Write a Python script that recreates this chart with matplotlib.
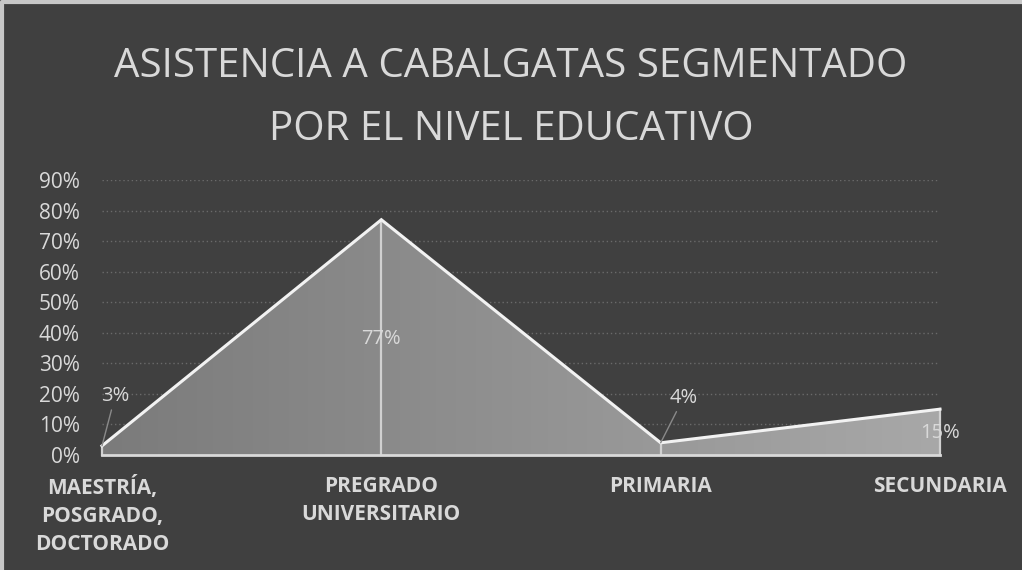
"""Area chart: asistencia a cabalgatas por nivel educativo."""

import numpy as np
import matplotlib.pyplot as plt
from matplotlib.colors import LinearSegmentedColormap
from matplotlib.lines import Line2D
from matplotlib.ticker import PercentFormatter

categories = ["MAESTRÍA,\nPOSGRADO,\nDOCTORADO", "PREGRADO\nUNIVERSITARIO", "PRIMARIA", "SECUNDARIA"]
values = [0.03, 0.77, 0.04, 0.15]
value_labels = ["3%", "77%", "4%", "15%"]
y_ticks = [0.0, 0.1, 0.2, 0.3, 0.4, 0.5, 0.6, 0.7, 0.8, 0.9]
title = "ASISTENCIA A CABALGATAS SEGMENTADO\nPOR EL NIVEL EDUCATIVO"

BG = "#404040"
TXT = "#d9d9d9"

plt.rcParams["font.family"] = ["Open Sans", "DejaVu Sans"]


def main():
    fig = plt.figure(figsize=(10.22, 5.70), dpi=100, facecolor=BG)
    # light frame on the top and left edge
    fig.lines.append(Line2D([0.002, 0.002, 1], [0, 0.997, 0.997], transform=fig.transFigure,
                            color="#c8c8c8", linewidth=3))

    ax = fig.add_axes([102 / 1022, 115 / 570, 838 / 1022, 275 / 570])
    ax.set_facecolor(BG)
    x = np.arange(len(values))
    ax.set_xlim(0, len(values) - 1)
    ax.set_ylim(0, 0.9)

    # gridlines
    ax.set_yticks(y_ticks)
    ax.yaxis.set_major_formatter(PercentFormatter(1.0, decimals=0))
    ax.grid(axis="y", color="#6a6a6a", linestyle=(0, (1, 2)), linewidth=1)
    ax.set_axisbelow(True)

    # area with horizontal gradient
    poly = ax.fill_between(x, values, 0, color="none")
    grad = np.linspace(0, 1, 256).reshape(1, -1)
    cmap = LinearSegmentedColormap.from_list("g", ["#7b7b7b", "#a8a8a8"])
    img = ax.imshow(grad, cmap=cmap, extent=[0, len(values) - 1, 0, 0.9],
                    aspect="auto", zorder=2)
    img.set_clip_path(poly.get_paths()[0], transform=ax.transData)

    ax.plot(x, values, color="#f2f2f2", linewidth=2.2, zorder=4, clip_on=False,
            solid_joinstyle="miter")
    ax.plot([x[0], x[-1]], [0, 0], color="#d9d9d9", linewidth=2, zorder=4, clip_on=False)
    for xi, v in zip(x, values):
        ax.plot([xi, xi], [0, v], color="#d0d0d0", linewidth=1.6, zorder=3, clip_on=False)

    # data labels (offsets in points)
    label_offsets = [(9.5, 36), (0, -86), (16.5, 32.5), (0, -17)]
    leader = [True, False, True, False]
    for xi, v, lab, off, lead in zip(x, values, value_labels, label_offsets, leader):
        arrow = dict(arrowstyle="-", color="#8a8a8a", lw=1, shrinkA=1, shrinkB=0) if lead else None
        ax.annotate(lab, (xi, v), xytext=off, textcoords="offset points",
                    ha="center", va="center", color=TXT, fontsize=14.5,
                    arrowprops=arrow, zorder=5)

    ax.set_xticks(x)
    ax.set_xticklabels(categories, fontweight="bold", fontsize=15, color=TXT,
                       linespacing=1.45, va="top")
    ax.tick_params(axis="x", length=0, pad=15)
    ax.tick_params(axis="y", length=0, pad=16, labelsize=15, labelcolor=TXT)
    for s in ax.spines.values():
        s.set_visible(False)

    fig.text(0.5, 0.828, title, ha="center", va="center", color=TXT,
             fontsize=29, linespacing=1.75)

    fig.savefig("out.png", dpi=100, facecolor=BG)


if __name__ == "__main__":
    main()
